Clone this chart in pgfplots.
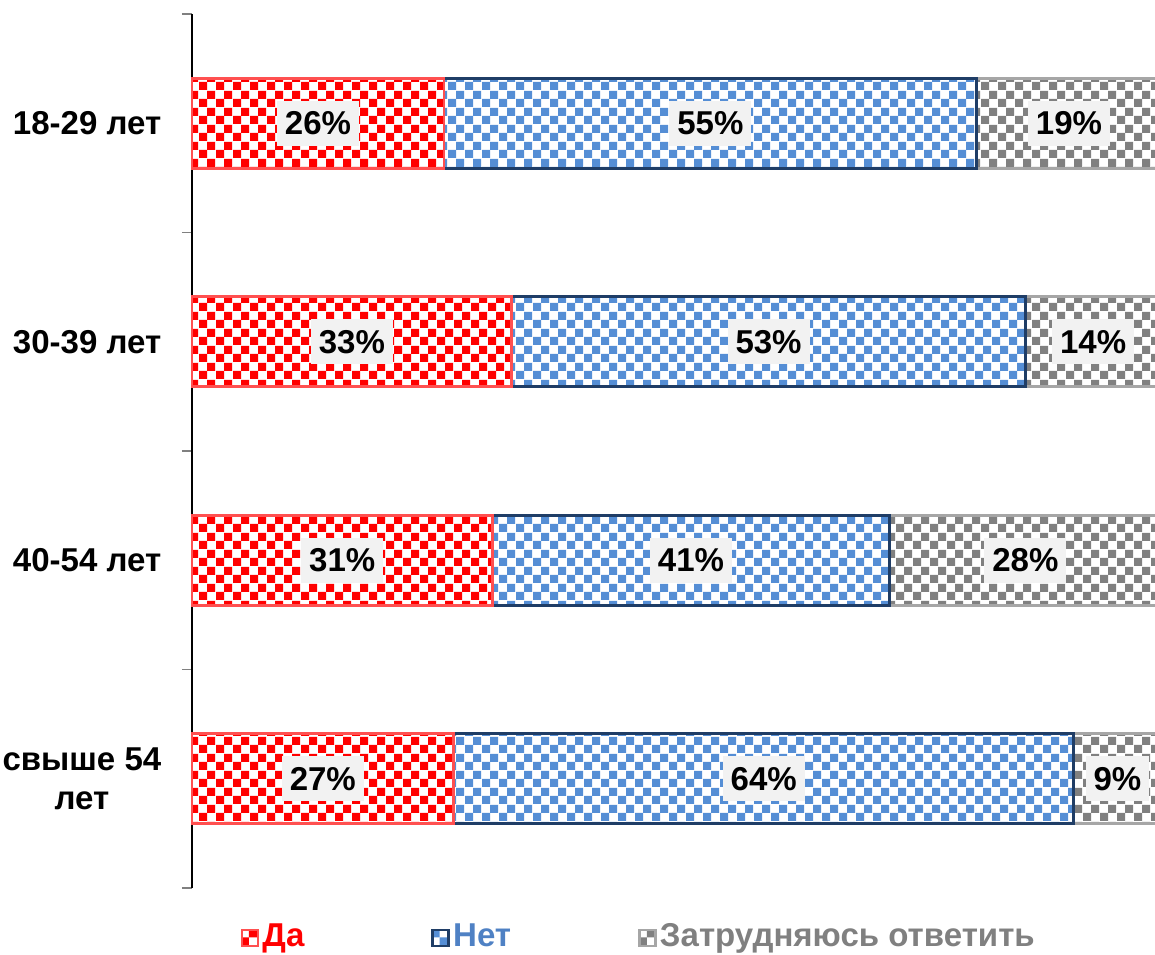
\documentclass[border=0pt]{standalone}
\usepackage{pgfplots}
\pgfplotsset{compat=1.18}
\usepackage{pgfplotstable}
\usepackage{fontspec}
\setmainfont{Liberation Sans}
\usetikzlibrary{patterns}

\definecolor{cred}{HTML}{FF0000}
\definecolor{credb}{HTML}{FF5050}
\definecolor{cblue}{HTML}{558ED5}
\definecolor{cblueb}{HTML}{1F3D66}
\definecolor{cgray}{HTML}{808080}
\definecolor{cgrayb}{HTML}{A6A6A6}
\definecolor{lblbg}{HTML}{F2F2F2}
\definecolor{ctxtblue}{HTML}{4F81C4}

\pgfdeclarepatternformonly{bigchecker}{\pgfqpoint{0pt}{0pt}}{\pgfqpoint{4.72pt}{4.72pt}}{\pgfqpoint{4.72pt}{4.72pt}}{%
  \pgfpathrectangle{\pgfqpoint{0pt}{0pt}}{\pgfqpoint{2.36pt}{2.36pt}}%
  \pgfpathrectangle{\pgfqpoint{2.36pt}{2.36pt}}{\pgfqpoint{2.36pt}{2.36pt}}%
  \pgfusepath{fill}}

\pgfplotstableread{
pos da net zatr
0 26 55 19
1 33 53 14
2 31 41 28
3 27 64 9
}\datatable

\newcommand{\fs}{\bfseries\fontsize{9.4}{11.3}\selectfont}

\begin{document}
\begin{tikzpicture}
\useasboundingbox (-1.92,-0.66) rectangle (9.63,8.88);
\begin{axis}[
  at={(0,0)}, anchor=south west,
  scale only axis, width=9.69cm, height=8.74cm,
  xbar stacked, bar width=0.9cm,
  xmin=0, xmax=100, ymin=-0.5, ymax=3.5, y dir=reverse,
  axis x line=none,
  axis y line*=left,
  y axis line style={black, line width=0.6pt, -},
  ytick={0,1,2,3},
  yticklabels={18-29 лет, 30-39 лет, 40-54 лет, {свыше 54\\лет}},
  yticklabel style={font=\fs, align=center, inner sep=0pt, xshift=-0.3cm, text=black},
  major tick length=0pt,
  minor ytick={-0.5,0.5,1.5,2.5,3.5},
  minor tick length=0.1cm,
  tick align=outside,
  minor tick style={cgray, line width=0.55pt},
  clip=false,
  visualization depends on={rawx \as \rawx},
  nodes near coords={\pgfmathprintnumber[assume math mode=true,fixed,precision=0]{\rawx}\%},
  nodes near coords style={font=\fs, fill=lblbg, anchor=center, inner xsep=0.08cm, inner ysep=0.11cm, text=black},
  legend columns=3,
  legend style={draw=none, fill=none, font=\fs, at={(axis description cs:0.0495,-0.0572)}, anchor=west, inner sep=0pt, nodes={inner xsep=0.03cm, inner ysep=0pt}, /tikz/every even column/.append style={column sep=1.24cm}},
  legend image code/.code={\draw[#1] (0cm,-0.08cm) rectangle (0.16cm,0.08cm);},
]
\addplot[draw=credb, line width=0.8pt, pattern=bigchecker, pattern color=cred] table[x=da,y=pos]{\datatable};
\addlegendentry{\textcolor{cred}{Да}}
\addplot[draw=cblueb, line width=0.8pt, pattern=bigchecker, pattern color=cblue] table[x=net,y=pos]{\datatable};
\addlegendentry{\textcolor{ctxtblue}{Нет}}
\addplot[draw=cgrayb, line width=0.8pt, pattern=bigchecker, pattern color=cgray] table[x=zatr,y=pos]{\datatable};
\addlegendentry{\textcolor{cgray}{Затрудняюсь ответить}}
\end{axis}
\end{tikzpicture}
\end{document}
